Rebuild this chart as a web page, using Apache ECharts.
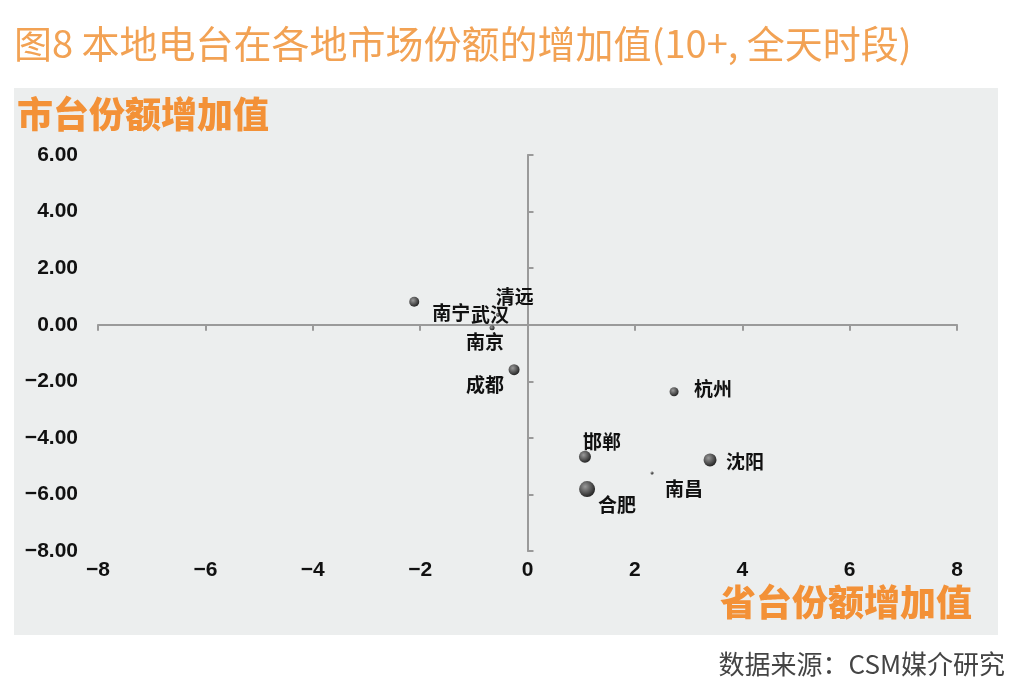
<!DOCTYPE html>
<html>
<head>
<meta charset="utf-8">
<script src="https://cdn.jsdelivr.net/npm/echarts@6/dist/echarts.min.js"></script>
<style>
  html, body { margin: 0; padding: 0; background: #fff; }
  #chartContainer { width: 1024px; height: 696px; }
</style>
</head>
<body>
<div id="chartContainer"></div>
<script>
// city names and their (provincial, municipal) share increments
const cities = ['南宁', '武汉', '清远', '南京', '成都', '杭州', '邯郸', '沈阳', '南昌', '合肥'];
const provinceGain = [-2.11, -0.55, -0.33, -0.66, -0.25, 2.73, 1.07, 3.40, 2.32, 1.11];
const cityGain = [0.81, 0.35, 0.88, -0.11, -1.59, -2.37, -4.67, -4.78, -5.24, -5.81];
// bubble weight (drawn as diameter)
const bubbleWeight = [10, 4, 3, 5, 11, 9, 12, 13, 3, 16];

const xTicks = { min: -8, max: 8, interval: 2 };
const yTicks = { min: -8, max: 6, interval: 2 };

// label placement relative to each bubble centre
const labelOffsets = [[37, 11], [-8, 0], [5, -3], [-7, 14], [-29, 15], [39, -3], [17, -15], [35, 2], [32, 16], [30, 16]];

document.addEventListener('DOMContentLoaded', function () {
  const chartContainer = document.getElementById('chartContainer');
  const myChart = echarts.init(chartContainer);

  const seriesData = cities.map((name, i) => ({
    name: name,
    value: [provinceGain[i], cityGain[i], bubbleWeight[i]]
  }));

  const axisLineStyle = { color: '#9a9a9a', width: 2 };
  const tickFont = { color: '#111', fontSize: 21, fontWeight: 'bold', fontFamily: 'Liberation Sans, Arial' };
  const minus = v => String(v).replace('-', '\u2212');

  myChart.setOption({
    backgroundColor: '#fff',
    animation: false,
    graphic: [
      {
        type: 'rect', z: -10, silent: true,
        shape: { x: 14, y: 88, width: 984, height: 547 },
        style: { fill: '#eceeee' }
      },
      {
        type: 'text', left: 14, top: 25,
        style: {
          text: '图8 本地电台在各地市场份额的增加值(10+, 全天时段)',
          fill: '#f2a254', fontSize: 38, fontFamily: 'Noto Sans CJK SC'
        }
      },
      {
        type: 'text', left: 17, top: 96,
        style: {
          text: '市台份额增加值', fill: '#f39137', fontSize: 36,
          fontWeight: 900, fontFamily: 'Noto Sans CJK SC'
        }
      },
      {
        type: 'text', left: 720, top: 584,
        style: {
          text: '省台份额增加值', fill: '#f39137', fontSize: 36,
          fontWeight: 900, fontFamily: 'Noto Sans CJK SC'
        }
      },
      {
        type: 'text', right: 19, top: 651,
        style: {
          text: '数据来源：CSM媒介研究', fill: '#444', fontSize: 26,
          fontFamily: 'Noto Sans CJK SC'
        }
      }
    ],
    grid: { left: 98, right: 67, top: 155, bottom: 145 },
    xAxis: [
      {
        type: 'value', position: 'bottom',
        min: xTicks.min, max: xTicks.max, interval: xTicks.interval,
        axisLine: { show: false },
        axisTick: { show: false },
        splitLine: { show: false },
        axisLabel: Object.assign({ margin: 9, formatter: minus }, tickFont)
      },
      {
        type: 'value', position: 'bottom',
        min: xTicks.min, max: xTicks.max, interval: xTicks.interval,
        axisLine: { show: true, onZero: true, lineStyle: axisLineStyle },
        axisTick: { show: true, length: 6, lineStyle: { color: '#9a9a9a', width: 2 } },
        splitLine: { show: false },
        axisLabel: { show: false }
      }
    ],
    yAxis: [
      {
        type: 'value', position: 'left',
        min: yTicks.min, max: yTicks.max, interval: yTicks.interval,
        axisLine: { show: false },
        axisTick: { show: false },
        splitLine: { show: false },
        axisLabel: Object.assign({ margin: 20, formatter: v => minus(v.toFixed(2)) }, tickFont)
      },
      {
        type: 'value', position: 'left',
        min: yTicks.min, max: yTicks.max, interval: yTicks.interval,
        axisLine: { show: true, onZero: true, lineStyle: axisLineStyle },
        axisTick: { show: true, inside: true, length: 6, lineStyle: { color: '#9a9a9a', width: 2 } },
        splitLine: { show: false },
        axisLabel: { show: false }
      }
    ],
    series: [
      {
        type: 'scatter',
        xAxisIndex: 0,
        yAxisIndex: 0,
        data: seriesData,
        symbolSize: d => d[2],
        itemStyle: {
          opacity: 1,
          color: {
            type: 'radial', x: 0.38, y: 0.35, r: 0.65,
            colorStops: [
              { offset: 0, color: '#9a9a9a' },
              { offset: 1, color: '#262626' }
            ]
          }
        },
        label: {
          show: true,
          position: 'inside',
          formatter: p => p.name,
          color: '#111',
          fontSize: 19,
          fontWeight: 'bold',
          fontFamily: 'Noto Sans CJK SC'
        },
        labelLayout: params => ({
          dx: labelOffsets[params.dataIndex][0],
          dy: labelOffsets[params.dataIndex][1],
          hideOverlap: false
        })
      }
    ]
  });
});
</script>
</body>
</html>
